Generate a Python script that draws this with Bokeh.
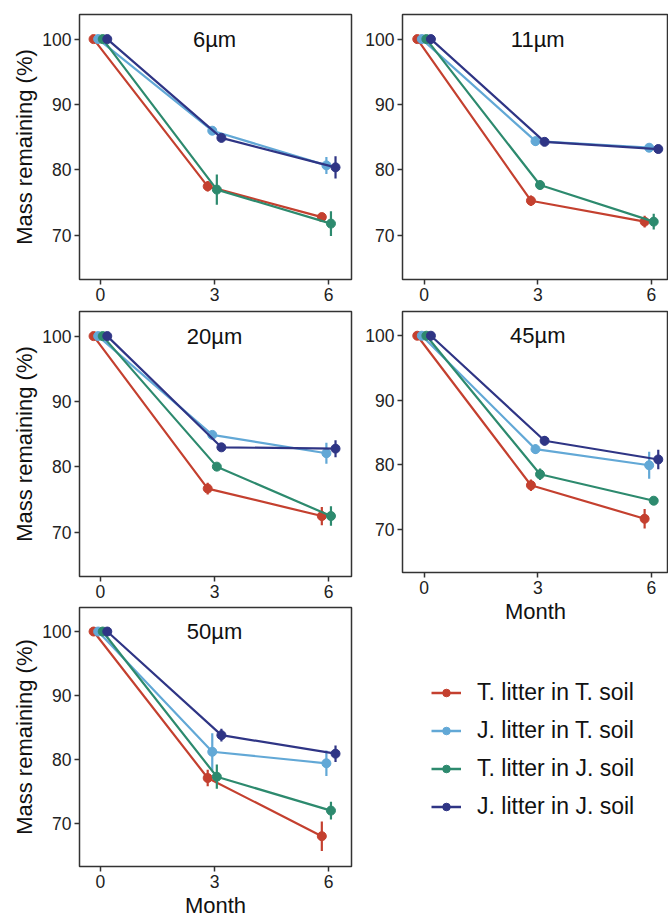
from bokeh.plotting import figure
from bokeh.layouts import row, column
from bokeh.models import Range1d, FixedTicker, Label, Legend, LegendItem, ColumnDataSource
from bokeh.embed import file_html
from bokeh.resources import INLINE

# ---------------- data ----------------
months = [0, 3, 6]
series_names = ["T. litter in T. soil", "J. litter in T. soil",
                "T. litter in J. soil", "J. litter in J. soil"]
series_colors = ["#C4402F", "#62A8D6", "#2D8A6E", "#2F3585"]
dodge = [-0.18, -0.06, 0.06, 0.18]
y_ticks = [70, 80, 90, 100]
x_ticks = [0, 3, 6]

panel_titles = ["6\u00b5m", "11\u00b5m", "20\u00b5m", "45\u00b5m", "50\u00b5m"]

# order inside each panel: TT, JT, TJ, JJ
means_6um = [[100, 77.5, 72.8], [100, 86.0, 80.7], [100, 77.0, 71.8], [100, 84.9, 80.4]]
se_6um = [[0, 0.8, 0.3], [0, 0.4, 1.3], [0, 2.3, 1.9], [0, 0.4, 1.7]]

means_11um = [[100, 75.3, 72.1], [100, 84.4, 83.4], [100, 77.7, 72.1], [100, 84.3, 83.2]]
se_11um = [[0, 0.8, 0.9], [0, 0.7, 0.2], [0, 0.7, 1.2], [0, 0.3, 0.2]]

means_20um = [[100, 76.7, 72.5], [100, 84.9, 82.1], [100, 80.05, 72.5], [100, 83.0, 82.8]]
se_20um = [[0, 0.9, 1.4], [0, 0.3, 1.6], [0, 0.3, 1.5], [0, 0.3, 1.3]]

means_45um = [[100, 76.8, 71.6], [100, 82.4, 79.9], [100, 78.5, 74.4], [100, 83.7, 80.8]]
se_45um = [[0, 0.9, 1.5], [0, 0.75, 2.1], [0, 0.9, 0.4], [0, 0.75, 1.5]]

means_50um = [[100, 77.1, 68.0], [100, 81.2, 79.4], [100, 77.3, 72.0], [100, 83.8, 80.9]]
se_50um = [[0, 1.3, 2.3], [0, 2.9, 2.0], [0, 1.9, 1.4], [0, 1.0, 1.3]]

# ---------------- style ----------------
FONT = "Liberation Sans"
Y0, Y1 = 63.26, 103.76
FRAME_H = 265


def make_panel(title, means, ses, x0, x1, frame_w, left, right, top, bottom,
               ylabel=None, xlabel=None):
    p = figure(width=left + frame_w + right, height=top + FRAME_H + bottom,
               x_range=Range1d(x0, x1), y_range=Range1d(Y0, Y1),
               output_backend="svg", toolbar_location=None,
               min_border_left=left, min_border_right=right,
               min_border_top=top, min_border_bottom=bottom)
    p.grid.visible = False
    p.outline_line_color = "#333333"
    p.outline_line_width = 1.5
    p.background_fill_color = "white"
    p.border_fill_color = "white"
    p.xaxis.ticker = FixedTicker(ticks=x_ticks)
    p.yaxis.ticker = FixedTicker(ticks=y_ticks)
    for ax in p.axis:
        ax.axis_line_color = None
        ax.major_tick_line_color = "#333333"
        ax.major_tick_line_width = 1.5
        ax.major_tick_out = 5
        ax.major_tick_in = 0
        ax.minor_tick_line_color = None
        ax.major_label_text_font = FONT
        ax.major_label_text_font_size = "17.5px"
        ax.major_label_text_color = "#222222"
        ax.major_label_standoff = 3
        ax.axis_label_text_font = FONT
        ax.axis_label_text_font_size = "22px"
        ax.axis_label_text_font_style = "normal"
        ax.axis_label_text_color = "#111111"
        ax.axis_label_standoff = 2
    if ylabel:
        p.yaxis.axis_label = ylabel
    if xlabel:
        p.xaxis.axis_label = xlabel

    for k in range(4):
        xs = [m + dodge[k] for m in months]
        ys = means[k]
        es = ses[k]
        src = ColumnDataSource(dict(x=xs, y=ys,
                                    lo=[y - e for y, e in zip(ys, es)],
                                    hi=[y + e for y, e in zip(ys, es)]))
        c = series_colors[k]
        p.line("x", "y", source=src, line_color=c, line_width=2.2)
        p.segment("x", "lo", "x", "hi", source=src, line_color=c, line_width=2.2)
        p.scatter("x", "y", source=src, size=9, fill_color=c, line_color=c)

    p.add_layout(Label(x=3, y=100, text=title, text_align="center",
                       text_baseline="middle", text_font=FONT,
                       text_font_size="22px", text_color="#111111"))
    return p


XL0, XL1 = -0.55, 6.6      # left column panels, 272 px frame
XR0, XR1 = -0.57, 6.45     # right column panels, 266 px frame

p1 = make_panel(panel_titles[0], means_6um, se_6um, XL0, XL1, 272, 79, 5, 14, 26,
                ylabel="Mass remaining (%)")
p3 = make_panel(panel_titles[2], means_20um, se_20um, XL0, XL1, 272, 79, 5, 6, 26,
                ylabel="Mass remaining (%)")
p5 = make_panel(panel_titles[4], means_50um, se_50um, XL0, XL1, 272, 79, 5, 5, 48,
                ylabel="Mass remaining (%)", xlabel="Month")
p2 = make_panel(panel_titles[1], means_11um, se_11um, XR0, XR1, 266, 46, 0, 14, 26)
p4 = make_panel(panel_titles[3], means_45um, se_45um, XR0, XR1, 266, 46, 0, 6, 50,
                xlabel="Month")

# legend panel (its glyphs are kept outside of its own visible range)
leg_h = 920 - (14 + FRAME_H + 26) - (6 + FRAME_H + 50)
pl = figure(width=312, height=leg_h, output_backend="svg", toolbar_location=None,
            x_axis_location=None, y_axis_location=None,
            min_border_left=0, min_border_right=0, min_border_top=0, min_border_bottom=0,
            x_range=Range1d(-30, -20), y_range=Range1d(-30, -20))
pl.grid.visible = False
pl.outline_line_color = None
items = []
for k in range(4):
    c = series_colors[k]
    src = ColumnDataSource(dict(x=months, y=means_6um[k]))
    r1 = pl.line("x", "y", source=src, line_color=c, line_width=2.5)
    r2 = pl.scatter("x", "y", source=src, size=8, fill_color=c, line_color=c)
    items.append(LegendItem(label=series_names[k], renderers=[r1, r2]))
legend = Legend(items=items, location=(29, 100), padding=0, margin=0,
                glyph_width=30, glyph_height=19, label_height=26,
                label_standoff=16, spacing=11,
                label_text_font=FONT, label_text_font_size="23px",
                label_text_color="#111111",
                border_line_color=None, background_fill_alpha=0)
pl.add_layout(legend)

layout = row(column(p1, p3, p5), column(p2, p4, pl))

open("out.html", "w").write(file_html(layout, INLINE))
